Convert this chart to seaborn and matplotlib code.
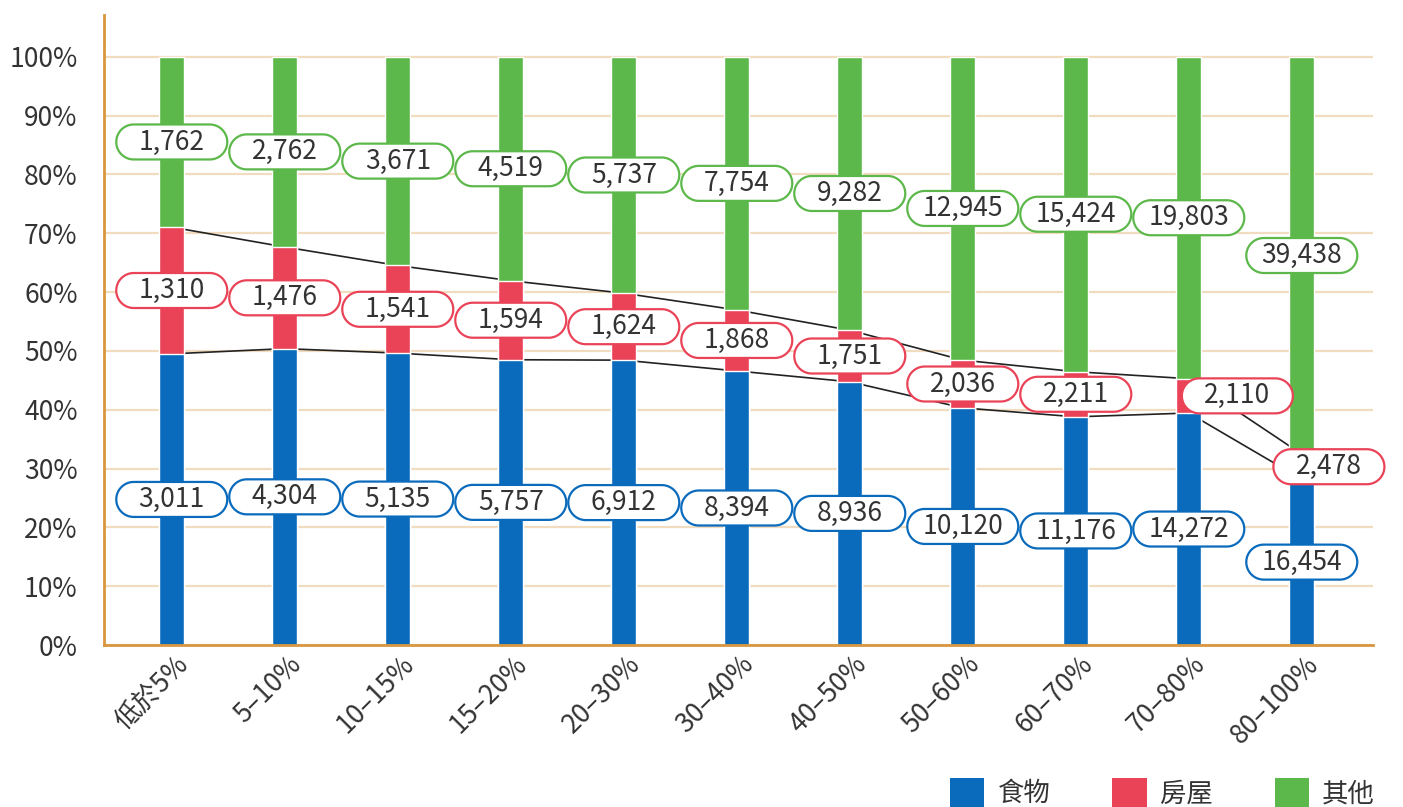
import numpy as np
import pandas as pd
import matplotlib
matplotlib.use("Agg")
import matplotlib.pyplot as plt
import seaborn as sns
from matplotlib.patches import PathPatch, Patch
from matplotlib.path import Path
from matplotlib.transforms import ScaledTranslation

# Income brackets and yearly spending per household (absolute amounts)
categories = ["低於5%", "5–10%", "10–15%", "15–20%", "20–30%", "30–40%",
              "40–50%", "50–60%", "60–70%", "70–80%", "80–100%"]
food = [3011, 4304, 5135, 5757, 6912, 8394, 8936, 10120, 11176, 14272, 16454]
housing = [1310, 1476, 1541, 1594, 1624, 1868, 1751, 2036, 2211, 2110, 2478]
other = [1762, 2762, 3671, 4519, 5737, 7754, 9282, 12945, 15424, 19803, 39438]
series_names = ["食物", "房屋", "其他"]
y_ticks = [0, 10, 20, 30, 40, 50, 60, 70, 80, 90, 100]

# Colours and layout settings
colors = ["#0a6bbd", "#ea4358", "#5cb84a"]
grid_color = "#f2dcc0"
spine_color = "#d8963e"
text_color = "#333333"
housing_label_nudge = [0, 0, 0, 0, 0, 0, 0, 0, 0, 0.43, 0.24]

sns.set_theme(style="white")
plt.rcParams["font.family"] = ["Noto Sans CJK TC", "DejaVu Sans"]

# Shares of each bracket's total, stacked
food_a = np.array(food, dtype=float)
housing_a = np.array(housing, dtype=float)
other_a = np.array(other, dtype=float)
total = food_a + housing_a + other_a
food_pct = food_a / total * 100
housing_pct = housing_a / total * 100
other_pct = other_a / total * 100
cum_food = food_pct
cum_housing = food_pct + housing_pct
cum_all = cum_housing + other_pct

df = pd.DataFrame({"組別": categories, "其他": cum_all,
                   "房屋": cum_housing, "食物": cum_food})

fig = plt.figure(figsize=(14.03, 8.07), dpi=100)
ax = fig.add_axes([0.0741, 0.2007, 0.9045, 0.7807])

bar_w = 0.22
for col, c in zip(["其他", "房屋", "食物"], colors[::-1]):
    sns.barplot(data=df, x="組別", y=col, color=c, width=bar_w,
                saturation=1, errorbar=None, ax=ax, zorder=2)

# Trend lines joining the segment tops (hidden inside the bars)
xs = np.arange(len(categories))
ax.plot(xs, cum_food, color="#222222", lw=1.2, zorder=1.5)
ax.plot(xs, cum_housing, color="#222222", lw=1.2, zorder=1.5)

ax.set_xlabel("")
ax.set_ylabel("")

ax.set_yticks(y_ticks)
ax.set_yticklabels([f"{v}%" for v in y_ticks])
ax.yaxis.grid(True, color=grid_color, lw=1.6)
ax.xaxis.grid(False)
ax.set_axisbelow(True)
ax.tick_params(axis="y", length=0, pad=19, labelsize=19, labelcolor=text_color)
ax.tick_params(axis="x", length=0, pad=4, labelsize=19, labelcolor=text_color)
ax.set_xticks(xs)
ax.set_xticklabels(categories, rotation=45, ha="right", rotation_mode="anchor")
shift = ScaledTranslation(0.03, 0, fig.dpi_scale_trans)
for lab in ax.get_xticklabels():
    lab.set_transform(lab.get_transform() + shift)

for s in ["top", "right"]:
    ax.spines[s].set_visible(False)
for s in ["left", "bottom"]:
    ax.spines[s].set_color(spine_color)
    ax.spines[s].set_linewidth(2)
    ax.spines[s].set_zorder(3)

# Value labels in pill-shaped boxes (outline built in inches)
box_w, box_h = 1.11, 0.35
r = box_h / 2
t = np.linspace(-np.pi / 2, np.pi / 2, 40)
right_arc = np.column_stack([box_w / 2 - r + r * np.cos(t), r * np.sin(t)])
left_arc = np.column_stack([-(box_w / 2 - r) - r * np.cos(t), -r * np.sin(t)])
pill_verts = np.vstack([right_arc, left_arc, right_arc[:1]])
pill_codes = [Path.MOVETO] + [Path.LINETO] * (len(pill_verts) - 2) + [Path.CLOSEPOLY]
pill_path = Path(pill_verts, pill_codes)


def pill(x, y, text, color):
    tr = fig.dpi_scale_trans + ScaledTranslation(x, y, ax.transData)
    p = PathPatch(pill_path, transform=tr, fc="white", ec=color, lw=1.6,
                  zorder=4, clip_on=False)
    ax.add_artist(p)
    ax.text(x, y, text, ha="center", va="center", fontsize=19,
            color=text_color, zorder=5)


for i in range(len(categories)):
    pill(i, cum_food[i] / 2, f"{food[i]:,}", colors[0])
    pill(i + housing_label_nudge[i], cum_food[i] + housing_pct[i] / 2,
         f"{housing[i]:,}", colors[1])
    pill(i, cum_housing[i] + other_pct[i] / 2, f"{other[i]:,}", colors[2])

ax.set_xlim(-0.6, 10.63)
ax.set_ylim(0, 107.1)

handles = [Patch(facecolor=c, edgecolor="none") for c in colors]
fig.legend(handles, series_names, loc="upper left",
           bbox_to_anchor=(950 / 1403, 1 - 778 / 807), ncol=3, frameon=False,
           handlelength=1.3, handleheight=1.3, handletextpad=0.5,
           columnspacing=2.35, fontsize=19, borderaxespad=0, borderpad=0,
           labelcolor=text_color)

fig.savefig("out.png", dpi=100)
